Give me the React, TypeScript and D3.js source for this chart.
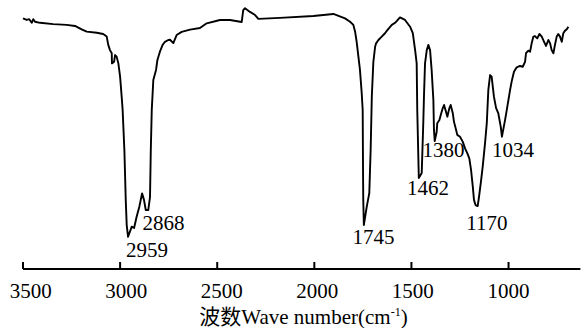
import React from "react";
import * as d3 from "d3";

const wavenumbers = [
  3500, 3481, 3468, 3455, 3447, 3438, 3412, 3344, 3275, 3232,
  3198, 3172, 3120, 3087, 3069, 3061, 3052, 3043, 3042, 3031,
  3026, 3018, 3009, 3000, 2992, 2987, 2978, 2971, 2966, 2959,
  2940, 2928, 2915, 2901, 2887, 2877, 2868, 2855, 2846, 2842,
  2837, 2829, 2815, 2808, 2795, 2781, 2769, 2752, 2743, 2726,
  2709, 2683, 2640, 2589, 2554, 2486, 2434, 2374, 2366, 2357,
  2331, 2305, 2288, 2177, 2005, 1902, 1842, 1816, 1799, 1790,
  1782, 1773, 1765, 1756, 1751, 1749, 1748, 1745, 1730, 1717,
  1710, 1704, 1696, 1687, 1682, 1670, 1653, 1636, 1624, 1601,
  1584, 1559, 1533, 1507, 1493, 1481, 1473, 1470, 1462, 1447,
  1439, 1435, 1430, 1421, 1413, 1404, 1396, 1387, 1384, 1380,
  1370, 1367, 1356, 1349, 1339, 1332, 1322, 1315, 1305, 1298,
  1287, 1281, 1270, 1264, 1250, 1236, 1224, 1212, 1202, 1193,
  1184, 1178, 1170, 1159, 1152, 1143, 1133, 1121, 1112, 1104,
  1095, 1087, 1081, 1075, 1064, 1053, 1040, 1034, 1018, 1009,
  992, 984, 972, 958, 941, 927, 915, 910, 898, 889,
  881, 872, 864, 852, 841, 829, 817, 807, 795, 786,
  778, 769, 761, 752, 744, 735, 726, 718, 709, 700,
  692,
];

const transmittance = [
  96.0, 95.4, 95.7, 94.3, 95.7, 94.7, 94.3, 93.8, 93.5, 93.1,
  91.8, 90.9, 90.5, 90.0, 89.0, 85.8, 83.8, 82.6, 78.7, 79.3,
  81.9, 81.3, 78.7, 73.6, 65.9, 60.8, 45.4, 26.2, 16.5, 12.0,
  15.9, 15.4, 19.7, 23.6, 28.7, 26.2, 22.3, 22.3, 27.4, 45.4,
  60.8, 72.3, 76.2, 80.0, 83.2, 85.8, 87.0, 87.7, 87.8, 86.5,
  89.6, 90.8, 91.7, 92.3, 94.1, 95.4, 95.4, 94.6, 99.2, 99.9,
  98.5, 97.3, 95.8, 96.2, 96.9, 97.7, 96.0, 94.7, 93.5, 90.9,
  87.0, 81.3, 76.2, 67.2, 60.8, 35.1, 26.2, 16.5, 23.6, 28.8,
  45.4, 65.9, 79.3, 85.1, 86.4, 87.7, 89.0, 90.3, 91.5, 93.5,
  94.3, 96.4, 95.4, 92.8, 90.3, 83.8, 78.7, 60.8, 34.6, 36.5,
  55.8, 67.2, 78.7, 83.8, 85.8, 83.8, 76.2, 64.6, 53.1, 48.8,
  52.4, 55.7, 56.9, 58.8, 61.4, 62.7, 60.1, 58.2, 61.4, 62.7,
  59.5, 56.3, 53.1, 51.2, 50.5, 48.6, 46.0, 44.1, 42.2, 37.7,
  31.3, 26.2, 24.2, 23.8, 27.4, 32.6, 39.0, 48.0, 55.7, 68.5,
  74.2, 73.6, 69.7, 65.8, 61.5, 59.6, 54.3, 50.5, 56.9, 60.8,
  68.5, 71.7, 75.5, 77.2, 77.7, 77.4, 79.3, 82.6, 83.6, 83.2,
  86.4, 89.0, 89.2, 88.3, 90.0, 89.0, 87.0, 85.4, 87.7, 86.4,
  83.8, 82.6, 85.8, 89.0, 90.0, 89.0, 87.0, 90.3, 91.3, 91.8,
  92.8,
];

const xTicks = [3500, 3000, 2500, 2000, 1500, 1000];

const peakLabels = ["2959", "2868", "1745", "1462", "1380", "1170", "1034"];
const peakLabelWn = [2861, 2777, 1695, 1415, 1335, 1111, 977];
const peakLabelT = [4.2, 14.6, 9.2, 28.1, 42.7, 14.6, 42.7];

const serif = "'Liberation Serif', 'Times New Roman', serif";

export default function App() {
  const W = 582;
  const H = 328;
  const x = d3.scaleLinear().domain([3500, 630]).range([23, 580.4]);
  const y = d3.scaleLinear().domain([0, 100]).range([268, 8]);
  const labelX = d3.scaleLinear().domain([3500, 1000]).range([30.7, 508.4]);
  const axisY = 269;

  const line = d3
    .line<number>()
    .x((_, i) => x(wavenumbers[i]))
    .y((d) => y(d));

  return (
    <svg
      width={W}
      height={H}
      style={{ position: "absolute", left: 0, top: 0, display: "block", background: "#fff" }}
    >
      <path d={line(transmittance) || ""} fill="none" stroke="#000" strokeWidth={1.9} strokeLinejoin="round" />
      <line x1={x(3500)} x2={x(630)} y1={axisY} y2={axisY} stroke="#000" strokeWidth={2} />
      {xTicks.map((t) => (
        <line key={"t" + t} x1={x(t)} x2={x(t)} y1={axisY - 7} y2={axisY} stroke="#000" strokeWidth={2} />
      ))}
      {xTicks.map((t) => (
        <text
          key={"l" + t}
          x={labelX(t)}
          y={297.5}
          textAnchor="middle"
          fontFamily={serif}
          fontSize={21}
          fill="#000"
        >
          {t}
        </text>
      ))}
      {peakLabels.map((p, i) => (
        <text
          key={"p" + p}
          x={x(peakLabelWn[i])}
          y={y(peakLabelT[i])}
          textAnchor="middle"
          fontFamily={serif}
          fontSize={21}
          fill="#000"
        >
          {p}
        </text>
      ))}
      <text
        x={303.5}
        y={324}
        textAnchor="middle"
        fontFamily={serif + ", 'Noto Sans CJK SC'"}
        fontSize={21}
        fill="#000"
      >
        波数Wave number(cm
        <tspan fontSize={12} dy={-8}>-1</tspan>
        <tspan dy={8}>)</tspan>
      </text>
    </svg>
  );
}
